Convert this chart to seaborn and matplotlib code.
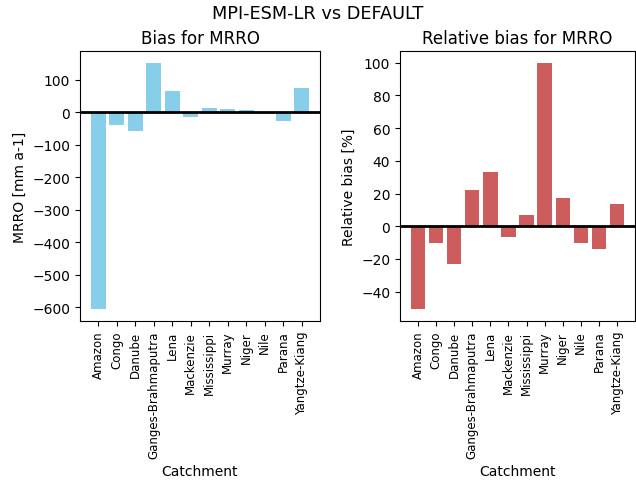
import matplotlib
matplotlib.use("Agg")
import matplotlib.pyplot as plt
import seaborn as sns
import pandas as pd

catchments = ["Amazon", "Congo", "Danube", "Ganges-Brahmaputra", "Lena",
              "Mackenzie", "Mississippi", "Murray", "Niger", "Nile",
              "Parana", "Yangtze-Kiang"]
bias_mrro = [-605, -39, -57, 151, 65, -13, 13, 10, 6, 1, -28, 74]
rel_bias_mrro = [-50.4, -10.2, -23.0, 22.1, 33.2, -6.4, 7.0, 99.6, 17.2,
                 -10.2, -14.1, 13.9]

df = pd.DataFrame({"Catchment": catchments,
                   "bias": bias_mrro,
                   "rel_bias": rel_bias_mrro})

fig = plt.figure(figsize=(6.36, 4.81), dpi=100)
ax1 = fig.add_axes([80 / 636, 159 / 481, 240 / 636, 270 / 481])
ax2 = fig.add_axes([400 / 636, 159 / 481, 235 / 636, 270 / 481])

n = len(catchments)
xlo = -0.4 - 0.05 * (n - 1 + 0.8)
xhi = n - 1 + 0.4 + 0.05 * (n - 1 + 0.8)

panels = [
    (ax1, "bias", "skyblue", "Bias for MRRO", "MRRO [mm a-1]"),
    (ax2, "rel_bias", "indianred", "Relative bias for MRRO", "Relative bias [%]"),
]
for ax, col, color, title, ylabel in panels:
    sns.barplot(data=df, x="Catchment", y=col, color=color, saturation=1,
                width=0.8, ax=ax)
    vals = df[col]
    span = vals.max() - vals.min()
    ax.set_ylim(vals.min() - 0.05 * span, vals.max() + 0.05 * span)
    ax.set_xlim(xlo, xhi)
    ax.axhline(0, color="black", linewidth=2)
    ax.set_title(title, fontsize=12)
    ax.set_ylabel(ylabel, fontsize=10)
    ax.set_xlabel("Catchment", fontsize=10)
    ax.tick_params(axis="x", labelrotation=90, labelsize=8.5)
    ax.tick_params(axis="y", labelsize=10)

fig.suptitle("MPI-ESM-LR vs DEFAULT", fontsize=12.8, y=1 - 14 / 481, va="center")
fig.savefig("out.png", dpi=100)
